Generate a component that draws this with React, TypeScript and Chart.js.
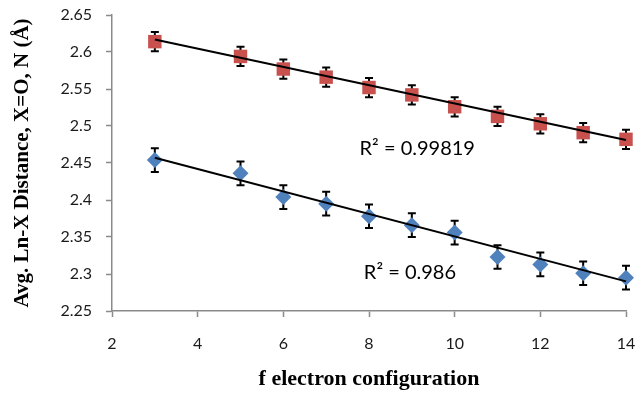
import React, { useEffect, useRef } from "react";
import { Chart, registerables } from "chart.js";

Chart.register(...registerables);

// f electron configuration (x)
const configs = [3, 5, 6, 7, 8, 9, 10, 11, 12, 13, 14];
// Red squares (upper series)
const redValues = [2.614, 2.594, 2.577, 2.566, 2.552, 2.542, 2.526, 2.513, 2.503, 2.491, 2.482];
const redErrors = [0.013, 0.013, 0.013, 0.013, 0.013, 0.013, 0.013, 0.013, 0.013, 0.013, 0.013];
// Blue diamonds (lower series)
const blueValues = [2.454, 2.436, 2.404, 2.395, 2.378, 2.366, 2.356, 2.323, 2.313, 2.301, 2.295];
const blueErrors = [0.016, 0.016, 0.016, 0.016, 0.016, 0.016, 0.016, 0.016, 0.016, 0.016, 0.016];
// Trend lines (end points)
const trendX = [3, 14];
const redTrendY = [2.617, 2.481];
const blueTrendY = [2.457, 2.29];
// Annotations
const redR2Label = "R² = 0.99819";
const blueR2Label = "R² = 0.986";
const redR2Pos = [7.78, 2.469];
const blueR2Pos = [7.88, 2.302];
// Axis ticks
const xMin = 2, xMax = 14, xStep = 2;
const yMin = 2.25, yMax = 2.65, yStep = 0.05;

const RED = "#C8504D";
const BLUE = "#4F81BD";
const AXIS = "#8a8a8a";
const TICK_FONT = "Lato";

const errorBarPlugin = {
  id: "errorBars",
  beforeDatasetsDraw(chart: any) {
    const { ctx, scales } = chart;
    const xs = scales.x, ys = scales.y;
    const sets = [
      { v: redValues, e: redErrors },
      { v: blueValues, e: blueErrors },
    ];
    ctx.save();
    ctx.strokeStyle = "#000";
    ctx.lineWidth = 2;
    for (const s of sets) {
      configs.forEach((c, i) => {
        const px = xs.getPixelForValue(c);
        const top = ys.getPixelForValue(s.v[i] + s.e[i]);
        const bot = ys.getPixelForValue(s.v[i] - s.e[i]);
        ctx.beginPath();
        ctx.moveTo(px, top);
        ctx.lineTo(px, bot);
        ctx.moveTo(px - 4, top);
        ctx.lineTo(px + 4, top);
        ctx.moveTo(px - 4, bot);
        ctx.lineTo(px + 4, bot);
        ctx.stroke();
      });
    }
    ctx.restore();
  },
  afterDatasetsDraw(chart: any) {
    const { ctx, scales } = chart;
    ctx.save();
    ctx.fillStyle = "#000";
    ctx.font = `20px ${TICK_FONT}`;
    ctx.textBaseline = "middle";
    ctx.textAlign = "left";
    ctx.fillText(redR2Label, scales.x.getPixelForValue(redR2Pos[0]), scales.y.getPixelForValue(redR2Pos[1]));
    ctx.fillText(blueR2Label, scales.x.getPixelForValue(blueR2Pos[0]), scales.y.getPixelForValue(blueR2Pos[1]));
    ctx.restore();
  },
};

export default function App() {
  const ref = useRef<HTMLCanvasElement | null>(null);
  useEffect(() => {
    document.body.style.margin = "0";
    const canvas = ref.current;
    if (!canvas) return;
    const chart = new Chart(canvas, {
      type: "scatter",
      data: {
        datasets: [
          {
            type: "line",
            data: trendX.map((x, i) => ({ x, y: redTrendY[i] })),
            borderColor: "#000",
            borderWidth: 2,
            pointRadius: 0,
            clip: false,
            order: 0,
          },
          {
            type: "line",
            data: trendX.map((x, i) => ({ x, y: blueTrendY[i] })),
            borderColor: "#000",
            borderWidth: 2,
            pointRadius: 0,
            clip: false,
            order: 0,
          },
          {
            data: configs.map((x, i) => ({ x, y: redValues[i] })),
            pointStyle: "rect",
            pointRadius: 9.5,
            backgroundColor: RED,
            borderColor: RED,
            borderWidth: 0,
            clip: false,
            order: 1,
          },
          {
            data: configs.map((x, i) => ({ x, y: blueValues[i] })),
            pointStyle: "rectRot",
            pointRadius: 8,
            backgroundColor: BLUE,
            borderColor: BLUE,
            borderWidth: 0,
            clip: false,
            order: 1,
          },
        ],
      },
      options: {
        responsive: false,
        animation: false,
        layout: { padding: { top: 15, right: 13, left: 0, bottom: 0 } },
        plugins: { legend: { display: false }, tooltip: { enabled: false } },
        scales: {
          x: {
            type: "linear",
            min: xMin,
            max: xMax,
            ticks: { stepSize: xStep, color: "#1a1a1a", font: { family: TICK_FONT, size: 16 }, padding: 17 },
            grid: { drawOnChartArea: false, drawTicks: true, tickLength: 6, tickColor: AXIS, tickWidth: 1.5 },
            border: { color: AXIS, width: 1.5 },
            title: {
              display: true,
              text: "f electron configuration",
              font: { family: "Liberation Serif", size: 22, weight: "bold" },
              color: "#000",
              padding: { top: 0, bottom: 1 },
            },
            afterFit: (s: any) => {
              s.height = 83;
              s.paddingLeft = 0;
              s.paddingRight = 0;
            },
          },
          y: {
            type: "linear",
            min: yMin,
            max: yMax,
            ticks: {
              stepSize: yStep,
              color: "#1a1a1a",
              font: { family: TICK_FONT, size: 16 },
              padding: 14,
              callback: (v: any) => String(Number(Number(v).toFixed(2))),
            },
            grid: { drawOnChartArea: false, drawTicks: true, tickLength: 6, tickColor: AXIS, tickWidth: 1.5 },
            border: { color: AXIS, width: 1.5 },
            title: {
              display: true,
              text: "Avg. Ln-X Distance, X=O, N (Å)",
              font: { family: "Liberation Serif", size: 21, weight: "bold" },
              color: "#000",
              padding: { top: 10, bottom: 0 },
            },
            afterFit: (s: any) => {
              s.width = 112;
              s.paddingTop = 0;
              s.paddingBottom = 0;
            },
          },
        },
      },
      plugins: [errorBarPlugin],
    } as any);
    return () => chart.destroy();
  }, []);
  return (
    <div style={{ width: 639, height: 394 }}>
      <canvas ref={ref} width={639} height={394} />
    </div>
  );
}
